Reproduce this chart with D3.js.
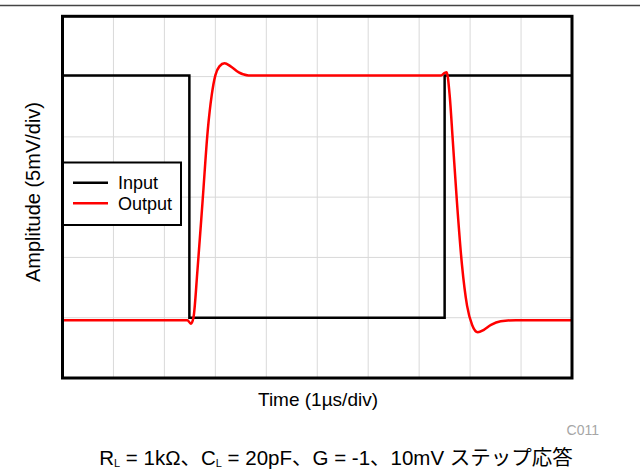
<!DOCTYPE html>
<html>
<head>
<meta charset="utf-8">
<script src="https://cdn.jsdelivr.net/npm/d3@7/dist/d3.min.js"></script>
<style>
  html, body { margin: 0; padding: 0; background: #fff; }
  svg { display: block; }
  text { font-family: "Liberation Sans", Arial, "Noto Sans CJK JP", sans-serif; }
</style>
</head>
<body>
<svg id="chart" width="640" height="470"></svg>
<script>
// ---- data (time in µs, amplitude in mV) ----
const xTicks = [0, 1, 2, 3, 4, 5, 6, 7, 8, 9, 10];
const yTicks = [-15, -10, -5, 0, 5, 10, 15];
const seriesNames = ["Input", "Output"];
const seriesColors = ["#000000", "#ff0000"];

const inputTime  = [0, 2.49, 2.49, 7.50, 7.50, 10];
const inputValue = [10.1, 10.1, -10.0, -10.0, 10.1, 10.1];

const outputTime  = [0, 2.45, 2.52, 2.57, 2.65, 2.75, 2.85, 2.93, 3.00, 3.08, 3.18, 3.30, 3.46, 3.65, 3.90, 5.5, 7.43, 7.50, 7.54, 7.60, 7.66, 7.74, 7.84, 7.94, 8.04, 8.15, 8.27, 8.41, 8.60, 8.90, 10];
const outputValue = [-10.2, -10.2, -10.5, -10.0, -6.0, -0.3, 5.5, 8.5, 10.1, 10.85, 11.1, 10.85, 10.35, 10.1, 10.1, 10.1, 10.1, 10.3, 10.35, 8.4, 4.7, -0.3, -5.6, -9.0, -10.6, -11.2, -11.0, -10.6, -10.3, -10.2, -10.2];

const xLabel = "Time (1µs/div)";
const yLabel = "Amplitude (5mV/div)";
const tag = "C011";

// ---- layout ----
const svg = d3.select("#chart");
const pLeft = 62.5, pRight = 572, pTop = 16.3, pBottom = 378;

const x = d3.scaleLinear().domain([0, 10]).range([pLeft, pRight]);
const y = d3.scaleLinear().domain([-15, 15]).range([pBottom, pTop]);

// top rule line
svg.append("line").attr("x1", 0).attr("x2", 640).attr("y1", 5.5).attr("y2", 5.5)
  .attr("stroke", "#444").attr("stroke-width", 1.5);

// grid
const grid = svg.append("g");
grid.selectAll("line.v").data(xTicks.slice(1, -1)).enter().append("line")
  .attr("x1", d => x(d)).attr("x2", d => x(d)).attr("y1", pTop).attr("y2", pBottom)
  .attr("stroke", "#d9d9d9").attr("stroke-width", 1);
grid.selectAll("line.h").data(yTicks.slice(1, -1)).enter().append("line")
  .attr("x1", pLeft).attr("x2", pRight).attr("y1", d => y(d)).attr("y2", d => y(d))
  .attr("stroke", "#d9d9d9").attr("stroke-width", 1);

// clip
svg.append("clipPath").attr("id", "clip").append("rect")
  .attr("x", pLeft).attr("y", pTop).attr("width", pRight - pLeft).attr("height", pBottom - pTop);

const plot = svg.append("g").attr("clip-path", "url(#clip)");

const inputData = inputTime.map((t, i) => [t, inputValue[i]]);
const outputData = outputTime.map((t, i) => [t, outputValue[i]]);

const lineLinear = d3.line().x(d => x(d[0])).y(d => y(d[1]));
const lineSmooth = d3.line().x(d => x(d[0])).y(d => y(d[1])).curve(d3.curveMonotoneX);

plot.append("path").datum(inputData).attr("d", lineLinear)
  .attr("fill", "none").attr("stroke", seriesColors[0]).attr("stroke-width", 2.5);
plot.append("path").datum(outputData).attr("d", lineSmooth)
  .attr("fill", "none").attr("stroke", seriesColors[1]).attr("stroke-width", 2.5);

// frame
svg.append("rect").attr("x", pLeft).attr("y", pTop).attr("width", pRight - pLeft).attr("height", pBottom - pTop)
  .attr("fill", "none").attr("stroke", "#000").attr("stroke-width", 3);

// legend
const lg = svg.append("g");
lg.append("rect").attr("x", 63).attr("y", 162.5).attr("width", 118).attr("height", 62.5)
  .attr("fill", "#fff").attr("stroke", "#000").attr("stroke-width", 2);
seriesNames.forEach((name, i) => {
  const yy = 182.7 + i * 20.6;
  lg.append("line").attr("x1", 73).attr("x2", 108).attr("y1", yy).attr("y2", yy)
    .attr("stroke", seriesColors[i]).attr("stroke-width", 2.5);
  lg.append("text").attr("x", 118).attr("y", yy + 6.5).attr("font-size", 18)
    .attr("fill", "#000").text(name);
});

// axis labels
svg.append("text").attr("x", 318).attr("y", 406).attr("text-anchor", "middle")
  .attr("font-size", 19).attr("fill", "#000").text(xLabel);
svg.append("text").attr("transform", `translate(40,192) rotate(-90)`)
  .attr("text-anchor", "middle").attr("font-size", 20).attr("fill", "#000").text(yLabel);

svg.append("text").attr("x", 599).attr("y", 435).attr("text-anchor", "end")
  .attr("font-size", 14).attr("fill", "#a6a6a6").text(tag);

// caption
const cap = svg.append("text").attr("x", 336).attr("y", 465).attr("text-anchor", "middle")
  .attr("font-size", 20.5).attr("fill", "#000");
cap.append("tspan").text("R");
cap.append("tspan").attr("font-size", 11).attr("dy", 2).text("L");
cap.append("tspan").attr("dy", -2).text(" = 1kΩ、C");
cap.append("tspan").attr("font-size", 11).attr("dy", 2).text("L");
cap.append("tspan").attr("dy", -2).text(" = 20pF、G = -1、10mV ");
cap.append("tspan").attr("font-family", "'Noto Sans CJK JP', sans-serif").text("ステップ応答");
</script>
</body>
</html>
